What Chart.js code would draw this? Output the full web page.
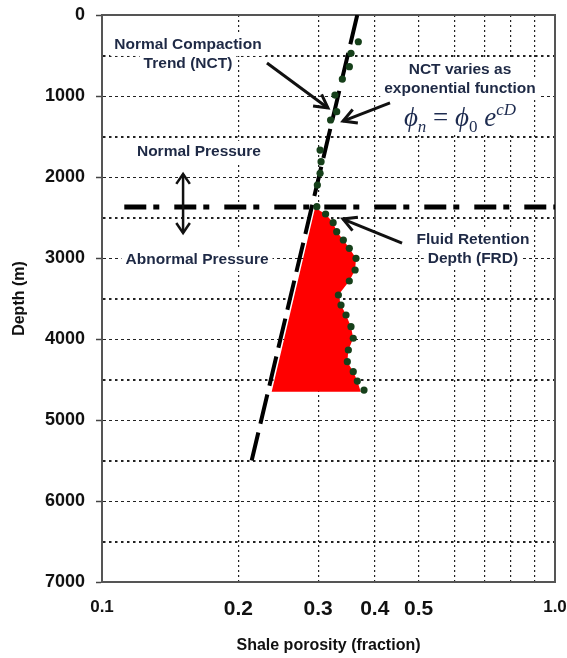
<!DOCTYPE html>
<html><head><meta charset="utf-8">
<script src="https://cdn.jsdelivr.net/npm/chart.js@4.4.1/dist/chart.umd.min.js"></script>
<style>html,body{margin:0;padding:0;background:#fff}#wrap{width:567px;height:658px;position:relative}</style>
</head><body><div id="wrap"><canvas id="c"></canvas></div>
<script>
// ---- data ----
const xGridValues = [0.1,0.2,0.3,0.4,0.5,0.6,0.7,0.8,0.9,1.0];
const xLabelValues = [0.1,0.2,0.3,0.4,0.5,1.0];
const xTickLabels = ['0.1','0.2','0.3','0.4','0.5','1.0'];
const depthMin = 0, depthMax = 7000, depthStep = 500;

const measuredDepth = [330,473,638,790,988,1193,1296,1667,1811,1955,2099,2366,
  2457,2564,2675,2778,2881,3004,3148,3284,3457,3580,3704,3848,3991,4136,4280,4404,4519,4630];
const measuredPorosity = [0.368,0.3545,0.3516,0.3393,0.3268,0.3297,0.3196,0.3030,0.3045,0.303,0.2988,0.298,
  0.3116,0.3238,0.3297,0.341,0.3515,0.3637,0.362,0.3515,0.3325,0.337,0.3457,0.3545,0.3586,0.3498,0.348,0.3586,0.3661,0.3788];

const nctDepth = [0, 5500];
const nctPorosity = [0.366, 0.214];

const frdDepth = [2370, 2370];
const frdPorosity = [0.112, 1.0];

const overDepth = [2383,2457,2564,2675,2778,2881,3004,3148,3284,3457,3580,3704,3848,3991,4136,4280,4404,4519,4650,4650];
const overPorosity = [0.2953,0.3116,0.3238,0.3297,0.341,0.3515,0.3637,0.362,0.3515,0.3325,0.337,0.3457,0.3545,0.3586,0.3498,0.348,0.3586,0.3661,0.3725,0.2369];

const pts = (xs, ys) => xs.map((x, i) => ({x, y: ys[i]}));

// ---- annotations (data coordinates) ----
const TEXT_COLOR = '#1e2945';
const labelBlocks = [
  {x:0.1548, ys:[370,605], lines:['Normal Compaction','Trend (NCT)']},
  {x:0.1637, ys:[1691], lines:['Normal Pressure']},
  {x:0.1621, ys:[3025], lines:['Abnormal Pressure']},
  {x:0.617, ys:[679,914], lines:['NCT varies as','exponential function']},
  {x:0.659, ys:[2778,3012], lines:['Fluid Retention','Depth (FRD)']}
];
const arrows = [
  {from:[0.2313,593], to:[0.3153,1148]},
  {from:[0.4323,1086], to:[0.3404,1309]},
  {from:[0.4596,2815], to:[0.3404,2519]}
];
const doubleArrow = {x:0.151, y1:1963, y2:2691};
const formula = {x:0.617, y:1272};

const LABEL_FONT = 'bold 15.5px "Liberation Sans", Arial, sans-serif';
const SERIF = '"Liberation Serif", "DejaVu Serif", serif';

function formulaParts() {
  return [
    {t:'\u03D5', f:'italic 27px '+SERIF, dy:0},
    {t:'n', f:'italic 17px '+SERIF, dy:6},
    {t:' = ', f:'27px '+SERIF, dy:0},
    {t:'\u03D5', f:'italic 27px '+SERIF, dy:0},
    {t:'0', f:'17px '+SERIF, dy:6},
    {t:' e', f:'italic 27px '+SERIF, dy:0},
    {t:'cD', f:'italic 17px '+SERIF, dy:-11}
  ];
}

function head(ctx, x1, y1, x2, y2, len, ang) {
  const a = Math.atan2(y2 - y1, x2 - x1);
  ctx.beginPath();
  ctx.moveTo(x2 - len*Math.cos(a - ang), y2 - len*Math.sin(a - ang));
  ctx.lineTo(x2, y2);
  ctx.lineTo(x2 - len*Math.cos(a + ang), y2 - len*Math.sin(a + ang));
  ctx.stroke();
}

const annotPlugin = {
  id: 'annot',
  beforeDatasetsDraw(chart) {
    const {ctx, scales:{x, y}, chartArea:ca} = chart;
    ctx.save();
    ctx.fillStyle = '#fff';
    ctx.font = LABEL_FONT;
    labelBlocks.forEach(b => {
      const cx = x.getPixelForValue(b.x);
      b.lines.forEach((ln, i) => {
        const w = ctx.measureText(ln).width;
        const cy = y.getPixelForValue(b.ys[i]);
        ctx.fillRect(cx - w/2 - 4, cy - 11, w + 8, 22);
      });
    });
    let tw = 0;
    formulaParts().forEach(p => { ctx.font = p.f; tw += ctx.measureText(p.t).width; });
    const fx = x.getPixelForValue(formula.x), fy = y.getPixelForValue(formula.y);
    ctx.fillRect(fx - tw/2 - 6, fy - 20, tw + 12, 36);
    ctx.strokeStyle = '#555';
    ctx.lineWidth = 2;
    ctx.strokeRect(ca.left, ca.top, ca.right - ca.left, ca.bottom - ca.top);
    ctx.restore();
  },
  afterDatasetsDraw(chart) {
    const {ctx, scales:{x, y}} = chart;
    ctx.save();
    ctx.fillStyle = TEXT_COLOR;
    ctx.textAlign = 'center';
    ctx.textBaseline = 'middle';
    ctx.font = LABEL_FONT;
    labelBlocks.forEach(b => {
      const cx = x.getPixelForValue(b.x);
      b.lines.forEach((ln, i) => ctx.fillText(ln, cx, y.getPixelForValue(b.ys[i])));
    });
    const parts = formulaParts();
    let tw = 0;
    parts.forEach(p => { ctx.font = p.f; p.w = ctx.measureText(p.t).width; tw += p.w; });
    let px = x.getPixelForValue(formula.x) - tw/2;
    const base = y.getPixelForValue(formula.y) + 8;
    ctx.textAlign = 'left';
    ctx.textBaseline = 'alphabetic';
    ctx.fillStyle = '#1d2b4f';
    parts.forEach(p => { ctx.font = p.f; ctx.fillText(p.t, px, base + p.dy); px += p.w; });
    ctx.strokeStyle = '#111';
    ctx.lineWidth = 3;
    ctx.lineCap = 'butt';
    arrows.forEach(a => {
      const x1 = x.getPixelForValue(a.from[0]), y1 = y.getPixelForValue(a.from[1]);
      const x2 = x.getPixelForValue(a.to[0]), y2 = y.getPixelForValue(a.to[1]);
      ctx.beginPath(); ctx.moveTo(x1, y1); ctx.lineTo(x2, y2); ctx.stroke();
      head(ctx, x1, y1, x2, y2, 15, 0.5);
    });
    const dx = x.getPixelForValue(doubleArrow.x);
    const dy1 = y.getPixelForValue(doubleArrow.y1), dy2 = y.getPixelForValue(doubleArrow.y2);
    ctx.lineWidth = 2.5;
    ctx.beginPath(); ctx.moveTo(dx, dy1); ctx.lineTo(dx, dy2); ctx.stroke();
    head(ctx, dx, dy2, dx, dy1, 12, 0.6);
    head(ctx, dx, dy1, dx, dy2, 12, 0.6);
    ctx.restore();
  }
};

new Chart(document.getElementById('c'), {
  type: 'scatter',
  data: {
    datasets: [
      {label:'Measured', data: pts(measuredPorosity, measuredDepth), showLine:false,
        pointRadius:3.6, pointBackgroundColor:'#16401a', pointBorderWidth:0},
      {label:'NCT', data: pts(nctPorosity, nctDepth), showLine:true, borderColor:'#000',
        borderWidth:4, borderDash:[30,9], pointRadius:0, fill:false},
      {label:'FRD', data: pts(frdPorosity, frdDepth), showLine:true, borderColor:'#000',
        borderWidth:5, borderDash:[22,7,6,15], pointRadius:0, fill:false},
      {label:'Overpressure', data: pts(overPorosity, overDepth), showLine:true,
        borderWidth:0, borderColor:'rgba(0,0,0,0)', backgroundColor:'#ff0000', fill:'shape', pointRadius:0, tension:0}
    ]
  },
  options: {
    responsive: true,
    maintainAspectRatio: false,
    animation: false,
    layout: {padding: 0},
    plugins: {legend:{display:false}, tooltip:{enabled:false}},
    scales: {
      x: {
        type: 'logarithmic', min: 0.1, max: 1.0, position: 'bottom',
        afterBuildTicks: s => { s.ticks = xGridValues.map(v => ({value: v})); },
        afterFit: s => { s.height = 76; s.paddingLeft = 0; s.paddingRight = 12; },
        ticks: {
          autoSkip: false, maxRotation: 0, padding: 15, color: '#111',
          font: c => ({family: '"Liberation Sans", Arial, sans-serif', weight: 'bold',
            size: (c.tick && (c.tick.value === 0.1 || c.tick.value === 1.0)) ? 17 : 21}),
          callback: v => {
            const i = xLabelValues.findIndex(t => Math.abs(t - v) < 1e-9);
            return i >= 0 ? xTickLabels[i] : '';
          }
        },
        grid: {
          drawTicks: false, lineWidth: 1.2,
          color: c => (c.tick && (c.tick.value <= 0.1001 || c.tick.value >= 0.999)) ? 'rgba(0,0,0,0)' : '#222'
        },
        border: {display: true, color: '#555', width: 2, dash: [2,3]},
        title: {display: true, text: 'Shale porosity (fraction)', color: '#111',
          font: {family: '"Liberation Sans", Arial, sans-serif', weight: 'bold', size: 16},
          padding: {top: 0, bottom: 3}}
      },
      y: {
        type: 'linear', reverse: true, min: depthMin, max: depthMax,
        afterFit: s => { s.width = 102; s.paddingTop = 15; s.paddingBottom = 0; },
        ticks: {
          stepSize: depthStep, autoSkip: false, padding: 11, color: '#111',
          font: {family: '"Liberation Sans", Arial, sans-serif', weight: 'bold', size: 18},
          callback: v => (v % 1000 === 0 ? String(v) : '')
        },
        grid: {
          tickLength: 6, tickBorderDash: [], tickWidth: 1.5,
          tickColor: c => (c.tick && c.tick.value % 1000 === 0) ? '#444' : 'rgba(0,0,0,0)',
          lineWidth: c => (c.tick && c.tick.value % 1000 === 0) ? 1 : 2,
          color: c => (c.tick && (c.tick.value === depthMin || c.tick.value === depthMax)) ? 'rgba(0,0,0,0)' : '#222'
        },
        border: {display: true, color: '#555', width: 2,
          dash: c => (c.tick && c.tick.value % 1000 === 0) ? [3,3] : [2.5,3.5]},
        title: {display: true, text: 'Depth (m)', color: '#111',
          font: {family: '"Liberation Sans", Arial, sans-serif', weight: 'bold', size: 16},
          padding: {top: 10, bottom: 0}}
      }
    }
  },
  plugins: [annotPlugin]
});
</script></body></html>
